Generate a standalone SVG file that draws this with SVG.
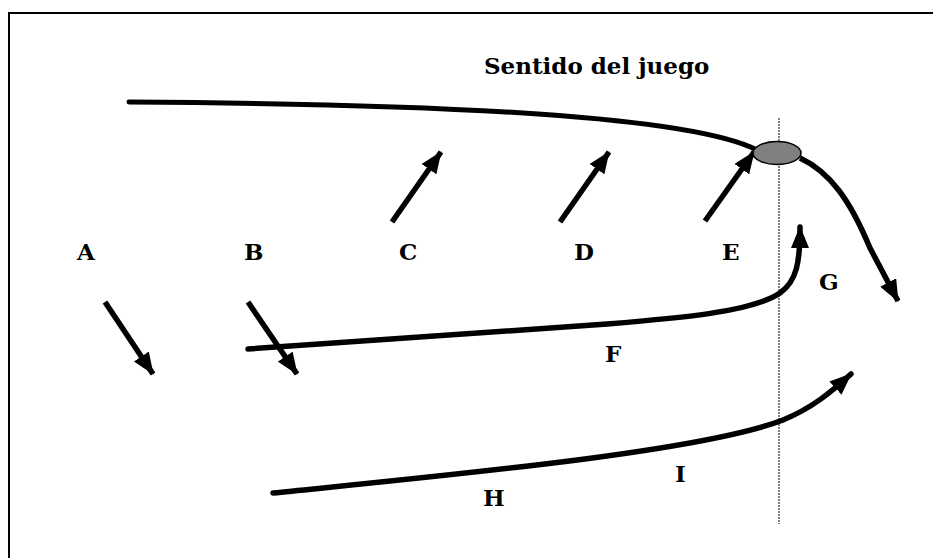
<svg xmlns="http://www.w3.org/2000/svg" width="933" height="558" viewBox="0 0 933 558">
<defs>
<marker id="ah" viewBox="0 0 22 18" refX="21" refY="9" markerWidth="22" markerHeight="18" markerUnits="userSpaceOnUse" orient="auto">
<path d="M0,0 L22,9 L0,18 Z" fill="#000"/>
</marker>
<style>
.lbl{font-family:"DejaVu Serif","Liberation Serif",serif;font-weight:bold;font-size:23px;fill:#000}
.mv{fill:none;stroke:#000;stroke-width:5;stroke-linecap:round}
.arr{fill:none;stroke:#000;stroke-width:5.5;marker-end:url(#ah)}
</style>
</defs>
<rect x="0" y="0" width="933" height="558" fill="#fff"/>
<rect x="9" y="13" width="940" height="560" fill="none" stroke="#000" stroke-width="2"/>
<g id="title"><text class="lbl" x="484" y="74" font-size="23">Sentido del juego</text></g>
<g id="connectors">
<path class="mv" d="M129,102 C450,104 690,116 757,150"/>
<line x1="779" y1="118" x2="779" y2="524" stroke="#000" stroke-width="1" stroke-dasharray="2,1"/>
<path class="arr" d="M392,222 L441,152"/>
<path class="arr" d="M560,222 L609,152"/>
<path class="arr" d="M705,221 L754,152"/>
<path class="arr" d="M105,302 L153,374"/>
<path class="arr" d="M248,302 L297,374"/>
<path class="arr" style="stroke-linecap:round" d="M248,349 L607,324 C680,318 752,312 780,293 C797,281 800,262 800,227"/>
<path class="arr" d="M800,158 C830,172 850,200 870,248 L898,301"/>
<path class="arr" style="stroke-linecap:round" d="M273,493 C450,475 700,452 783,420 C812,408 830,393 851,374"/>
</g>
<g id="ball"><ellipse cx="777" cy="153" rx="24" ry="11.5" fill="#808080" stroke="#000" stroke-width="1.5"/></g>
<g id="A"><text class="lbl" x="77" y="260">A</text></g>
<g id="B"><text class="lbl" x="244" y="260">B</text></g>
<g id="C"><text class="lbl" x="399" y="260">C</text></g>
<g id="D"><text class="lbl" x="574" y="260">D</text></g>
<g id="E"><text class="lbl" x="722" y="260">E</text></g>
<g id="F"><text class="lbl" x="605" y="362">F</text></g>
<g id="G"><text class="lbl" x="819" y="290">G</text></g>
<g id="H"><text class="lbl" x="483" y="506">H</text></g>
<g id="I"><text class="lbl" x="675" y="482">I</text></g>
</svg>
